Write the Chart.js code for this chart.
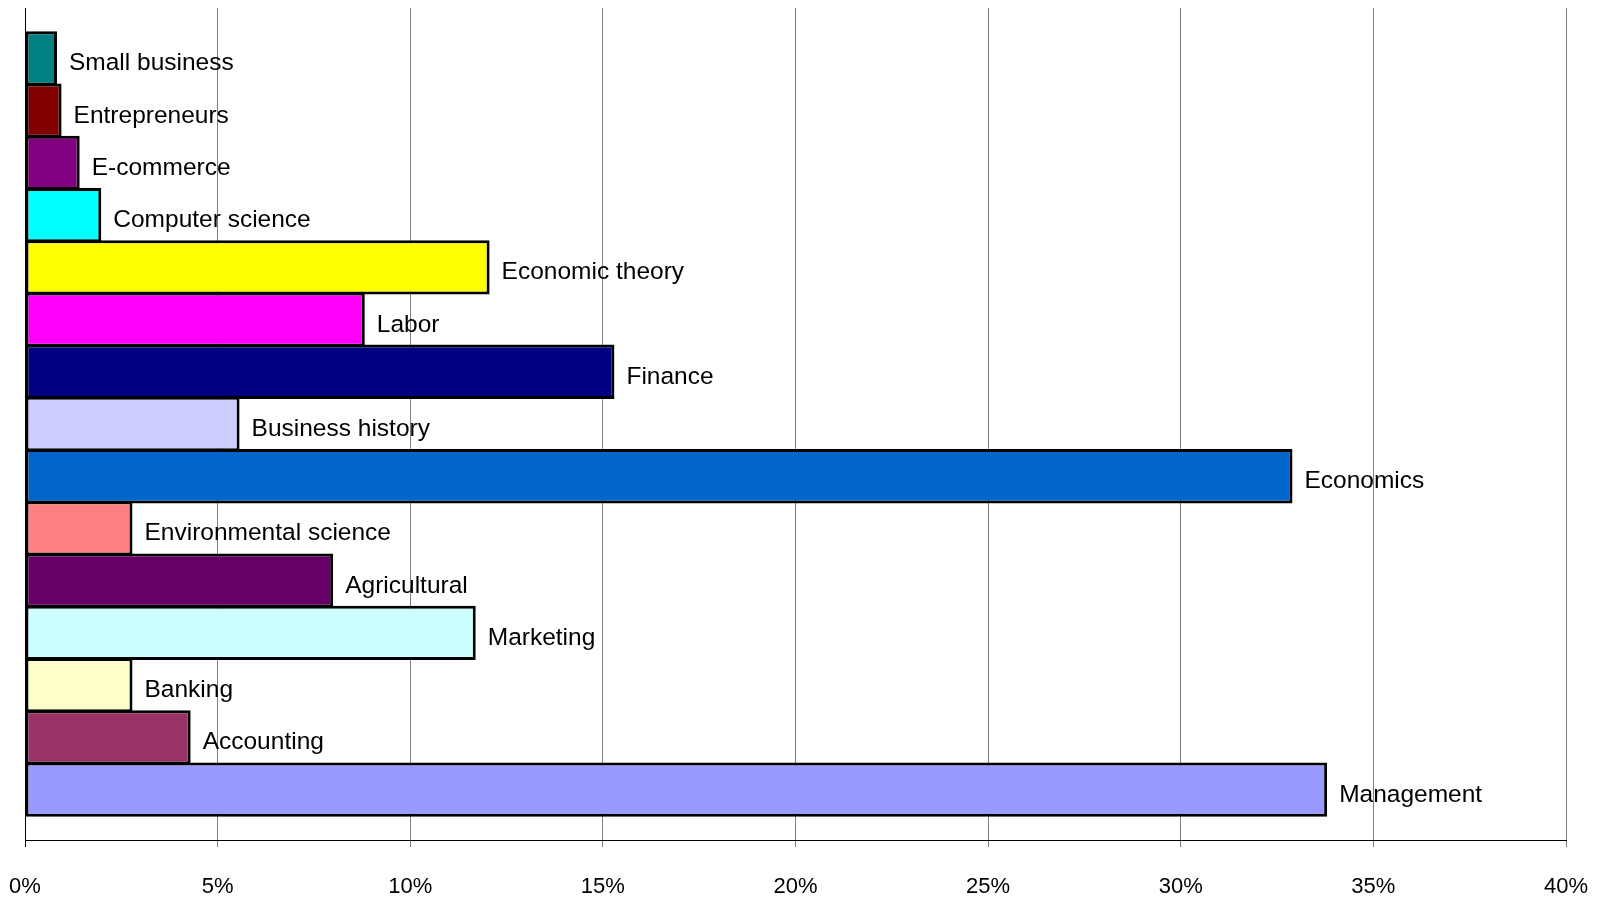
<!DOCTYPE html>
<html>
<head>
<meta charset="utf-8">
<script src="https://cdn.jsdelivr.net/npm/chart.js@4/dist/chart.umd.min.js"></script>
<style>
  html, body { margin: 0; padding: 0; background: #ffffff; }
  #wrap { width: 1605px; height: 897px; position: relative; }
</style>
</head>
<body>
<div id="wrap"><canvas id="c"></canvas></div>
<script>
// Series (top to bottom as drawn)
const categories = [
  "Small business", "Entrepreneurs", "E-commerce", "Computer science",
  "Economic theory", "Labor", "Finance", "Business history", "Economics",
  "Environmental science", "Agricultural", "Marketing", "Banking",
  "Accounting", "Management"
];
// Share of total, percent
const values = [0.83, 0.95, 1.42, 1.98, 12.06, 8.82, 15.3, 5.57, 32.9, 2.79, 8.0, 11.7, 2.79, 4.3, 33.8];
const colors = [
  "#008080", "#800000", "#800080", "#00FFFF", "#FFFF00", "#FF00FF", "#000080",
  "#CCCCFF", "#0066CC", "#FF8080", "#660066", "#CCFFFF", "#FFFFCC", "#993366", "#9999FF"
];
const xTicks = [0, 5, 10, 15, 20, 25, 30, 35, 40];

const datasets = categories.map((name, i) => ({
  label: name,
  data: [values[i]],
  backgroundColor: colors[i],
  borderColor: "#000000",
  borderWidth: 3,
  borderSkipped: false,
  categoryPercentage: 0.9416,
  barPercentage: 1.04
}));

const barLabels = {
  id: "barLabels",
  afterDatasetsDraw(chart) {
    const ctx = chart.ctx;
    ctx.save();
    ctx.font = '24.5px "Liberation Sans", Arial, sans-serif';
    ctx.fillStyle = "#000000";
    ctx.textAlign = "left";
    ctx.textBaseline = "alphabetic";
    chart.data.datasets.forEach((ds, i) => {
      const meta = chart.getDatasetMeta(i);
      const el = meta.data[0];
      if (!el) return;
      ctx.fillText(ds.label, el.x + 12, el.y + 12);
    });
    ctx.restore();
  }
};

new Chart(document.getElementById("c"), {
  type: "bar",
  data: { labels: [""], datasets },
  options: {
    indexAxis: "y",
    responsive: true,
    maintainAspectRatio: false,
    animation: false,
    layout: { padding: { left: 25, right: 39, top: 8, bottom: 0 } },
    plugins: { legend: { display: false }, tooltip: { enabled: false } },
    scales: {
      x: {
        type: "linear",
        min: 0,
        max: 40,
        afterBuildTicks(scale) { scale.ticks = xTicks.map(v => ({ value: v })); },
        afterFit(scale) { scale.height = 57; scale.paddingLeft = 0; scale.paddingRight = 0; },
        ticks: {
          color: "#000000",
          font: { family: '"Liberation Sans", Arial, sans-serif', size: 22 },
          padding: 27,
          maxRotation: 0,
          callback: v => v + "%"
        },
        grid: {
          color: "#808080",
          lineWidth: 1,
          drawTicks: true,
          tickLength: 7,
          tickColor: c => (c.index === 0 ? "#000000" : "#808080")
        },
        border: { display: true, color: "#000000", width: 1 }
      },
      y: {
        afterFit(scale) { scale.width = 0; scale.paddingTop = 0; scale.paddingBottom = 0; },
        ticks: { display: false },
        grid: { display: false, drawTicks: false },
        border: { display: true, color: "#000000", width: 1 }
      }
    }
  },
  plugins: [barLabels]
});
</script>
</body>
</html>
